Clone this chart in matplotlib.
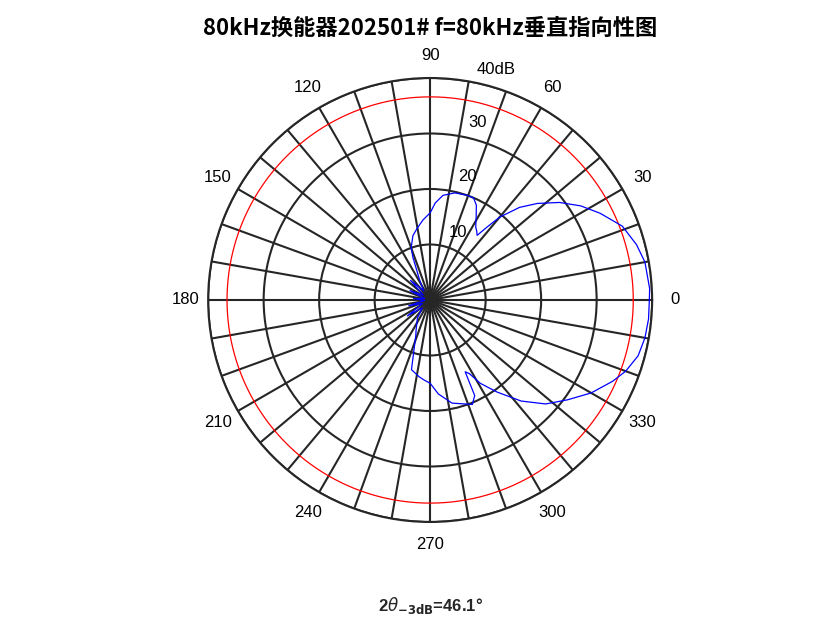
import numpy as np
import matplotlib.pyplot as plt

plt.rcParams['font.family'] = ['Noto Sans CJK SC', 'DejaVu Sans']

title = '80kHz换能器202501# f=80kHz垂直指向性图'
beam_width = 46.1

# angle (deg) and level (dB)
ang = [0, 3, 10, 15, 21, 27, 32, 37, 42, 46, 50, 52, 54, 56, 58, 61, 64, 67, 71, 77, 83, 87, 90,
       95, 100, 105, 110, 112, 118, 125, 135, 145, 155, 165, 175, 185, 195, 205, 215, 225, 235,
       245, 248, 255, 262, 266, 270, 275, 282, 292, 295, 296, 298, 301, 306, 312, 318, 324,
       330, 336, 340, 345, 350, 355, 360]
db = [39.5, 39.6, 39.3, 38.5, 37.1, 34.4, 32.0, 29.2, 26.0, 23.2, 19.5, 16.7, 14.4, 15.0, 15.5,
      17.1, 19.0, 20.0, 20.0, 19.8, 19.0, 17.5, 15.7,
      14.5, 13.2, 12.0, 10.0, 8.3, 4.0, 2.0, 5.0, 1.5, 4.0, 1.0, 3.0, 1.0, 4.0, 1.5, 5.0, 2.0, 4.0,
      6.0, 6.9, 13.0, 14.0, 14.5, 15.0, 17.0, 19.0, 20.3, 19.0, 14.4, 15.0, 17.5, 20.5, 24.5, 28.0,
      30.6, 33.5, 36.0, 37.5, 38.8, 39.3, 39.5, 39.5]

fig = plt.figure(figsize=(8.32, 6.24), dpi=100)
ax = fig.add_axes([0.25, 0.1635, 0.534, 0.7115], projection='polar')
ax.set_ylim(0, 40)
ax.set_yticks([10, 20, 30, 40])
ax.set_yticklabels([])
ax.set_xticks(np.deg2rad(np.arange(0, 360, 10)))
ax.set_xticklabels([str(a) if a % 30 == 0 else '' for a in range(0, 360, 10)], fontsize=12,
                   family=['Liberation Sans', 'DejaVu Sans'])
ax.tick_params(axis='x', pad=6)
ax.grid(True, color='#262626', lw=1.5)
ax.spines['polar'].set_color('#262626')
ax.spines['polar'].set_linewidth(1.5)

th = np.linspace(0, 2 * np.pi, 361)
ax.plot(th, np.full_like(th, max(db) - 3), color='red', lw=0.9)
ax.plot(np.deg2rad(ang), db, color='blue', lw=0.9)

for r, a, lab in zip([10, 20, 30, 40], [68, 73, 75, 74], ['10', '20', '30', '40dB']):
    ax.text(np.deg2rad(a), r + 3.2, lab, fontsize=12, ha='center', va='center',
            family=['Liberation Sans', 'DejaVu Sans'])

fig.text(0.517, 0.955, title, fontsize=16, fontweight='bold', ha='center', va='center')
fig.text(0.517, 0.03, r'2$\theta_{\mathbf{-3dB}}$=%.1f°' % beam_width, fontsize=12,
         fontweight='bold', ha='center', va='center', color='#262626',
         family=['Liberation Sans', 'DejaVu Sans'])

fig.savefig('out.png')
